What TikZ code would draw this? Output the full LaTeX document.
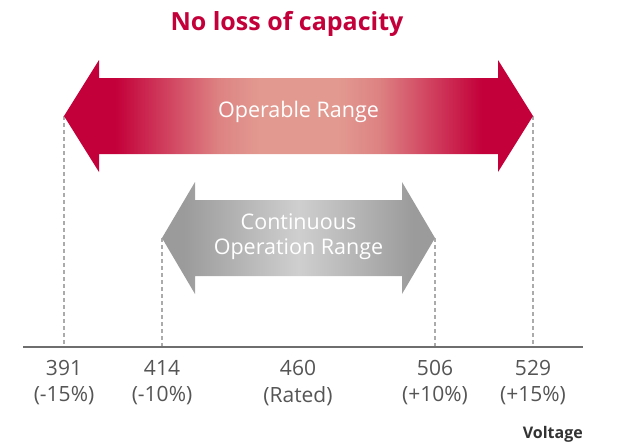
\documentclass[tikz,border=0pt]{standalone}
\usepackage{fontspec}
\setmainfont{Open Sans}
\usetikzlibrary{calc}
\definecolor{LGRed}{HTML}{C3003A}
\definecolor{LPink}{HTML}{E29A90}
\definecolor{DGray}{HTML}{9B9B9B}
\definecolor{LGray}{HTML}{CFCFCF}
\definecolor{AxisGray}{HTML}{6E6E6E}
\definecolor{TickGray}{HTML}{ABABAB}
\definecolor{LabelGray}{HTML}{555555}
\pgfdeclarehorizontalshading{OperableShade}{100bp}{color(0bp)=(LGRed); color(30.5bp)=(LGRed); color(35bp)=(LGRed!65!LPink); color(41.5bp)=(LGRed!15!LPink); color(46bp)=(LPink); color(54bp)=(LPink); color(58.5bp)=(LGRed!15!LPink); color(65bp)=(LGRed!65!LPink); color(69.5bp)=(LGRed); color(100bp)=(LGRed)}
\pgfdeclarehorizontalshading{ContinuousShade}{100bp}{color(0bp)=(DGray); color(29bp)=(DGray); color(50bp)=(LGray); color(71bp)=(DGray); color(100bp)=(DGray)}
\NewDocumentCommand{\RangeArrow}{m m m m}{
    % #1 shading, #2 west tip, #3 east tip, #4 head length
    \shade[shading=#1] (#2) -- ++(#4,-56) -- ++(0,18)
        -- ($(#3)+(-#4,-38)$) -- ++(0,-18) -- (#3)
        -- ++(-#4,56) -- ++(0,-18)
        -- ($(#2)+(#4,38)$) -- ++(0,18) -- cycle;
}
\tikzset{
    tickline/.style={TickGray, line width=1.1pt, dash pattern=on 4pt off 3pt},
    axisline/.style={AxisGray, line width=2.6pt},
    valuelabel/.style={text=LabelGray, font=\fontsize{21}{21}\selectfont, inner sep=0pt},
}

\begin{document}
\begin{tikzpicture}[x=1pt, y=-1pt]
\useasboundingbox (0,0) rectangle (618,442);

\coordinate (op-west) at (64,116);
\coordinate (op-east) at (533,116);
\coordinate (co-west) at (162,238);
\coordinate (co-east) at (435,238);
\coordinate (axis-west) at (23,347);
\coordinate (axis-east) at (583,347);
\coordinate (tick-391) at (64,347);
\coordinate (tick-414) at (162,347);
\coordinate (tick-506) at (435,347);
\coordinate (tick-529) at (533,347);

\draw[tickline] (op-west) -- (tick-391);
\draw[tickline] (co-west) -- (tick-414);
\draw[tickline] (co-east) -- (tick-506);
\draw[tickline] (op-east) -- (tick-529);
\draw[axisline] (axis-west) -- (axis-east);

\RangeArrow{OperableShade}{op-west}{op-east}{35}
\RangeArrow{ContinuousShade}{co-west}{co-east}{33}

\node[text=LGRed, font=\fontsize{25}{25}\selectfont\bfseries] (title) at (287,24) {No loss of capacity};
\node[text=white, font=\fontsize{21.5}{21.5}\selectfont] (op-label) at ($(op-west)!0.5!(op-east)+(0,-4)$) {Operable Range};
\node[text=white, font=\fontsize{21.5}{25}\selectfont, align=center] (co-label) at ($(co-west)!0.5!(co-east)+(0,-1)$) {Continuous\\Operation Range};

\node[valuelabel] (v391) at (64,368) {391};
\node[valuelabel] (v414) at (162,368) {414};
\node[valuelabel] (v460) at (298,368) {460};
\node[valuelabel] (v506) at (435,368) {506};
\node[valuelabel] (v529) at (533,368) {529};
\node[valuelabel] (p391) at (64,396) {(-15\%)};
\node[valuelabel] (p414) at (162,396) {(-10\%)};
\node[valuelabel] (p460) at (298,396) {(Rated)};
\node[valuelabel] (p506) at (435,396) {(+10\%)};
\node[valuelabel] (p529) at (533,396) {(+15\%)};
\node[text=black!80, font=\fontsize{16}{16}\selectfont\bfseries, anchor=east, inner sep=0pt] (voltage) at (583,434) {Voltage};
\end{tikzpicture}
\end{document}
